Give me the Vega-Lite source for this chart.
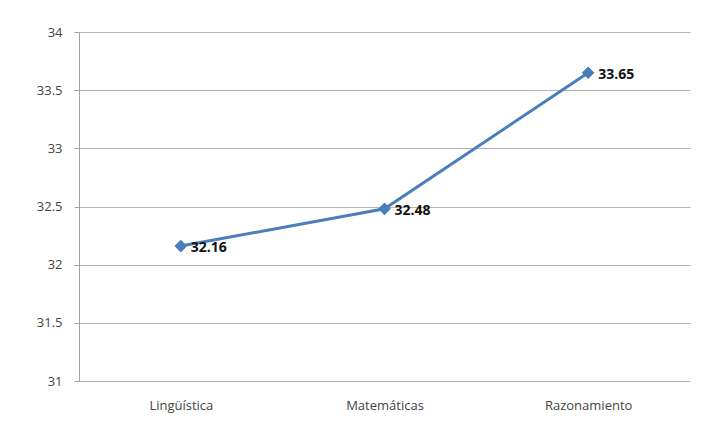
{
  "$schema": "https://vega.github.io/schema/vega-lite/v6.json",
  "width": 611,
  "height": 349,
  "autosize": {"type": "none"},
  "padding": {"left": 79, "top": 32, "right": 11, "bottom": 46},
  "background": "white",
  "config": {
    "view": {"stroke": null},
    "font": "Open Sans"
  },
  "data": {
    "values": [
      {"area": "Lingüística", "value": 32.16},
      {"area": "Matemáticas", "value": 32.48},
      {"area": "Razonamiento", "value": 33.65}
    ]
  },
  "encoding": {
    "x": {
      "field": "area",
      "type": "nominal",
      "sort": null,
      "scale": {"type": "point", "padding": 0.5},
      "axis": {
        "title": null,
        "labelAngle": 0,
        "labelFontSize": 13,
        "labelColor": "#444444",
        "labelPadding": 18,
        "domain": false,
        "ticks": false,
        "grid": false
      }
    },
    "y": {
      "field": "value",
      "type": "quantitative",
      "scale": {"domain": [31, 34], "nice": false, "zero": false},
      "axis": {
        "title": null,
        "values": [31, 31.5, 32, 32.5, 33, 33.5, 34],
        "format": "~f",
        "labelFontSize": 13,
        "labelColor": "#444444",
        "labelPadding": 12,
        "tickSize": 5,
        "tickColor": "#a0a0a0",
        "domainColor": "#a0a0a0",
        "gridColor": "#b4b4b4",
        "gridOpacity": 1
      }
    }
  },
  "layer": [
    {
      "mark": {"type": "line", "color": "#4a7ebb", "strokeWidth": 3}
    },
    {
      "mark": {"type": "point", "shape": "diamond", "filled": true, "color": "#4a7ebb", "size": 160, "opacity": 1}
    },
    {
      "mark": {"type": "text", "align": "left", "baseline": "middle", "dx": 10, "dy": 2, "fontWeight": "bold", "fontSize": 14, "color": "#111111"},
      "encoding": {"text": {"field": "value", "type": "quantitative", "format": ".2f"}}
    }
  ]
}
